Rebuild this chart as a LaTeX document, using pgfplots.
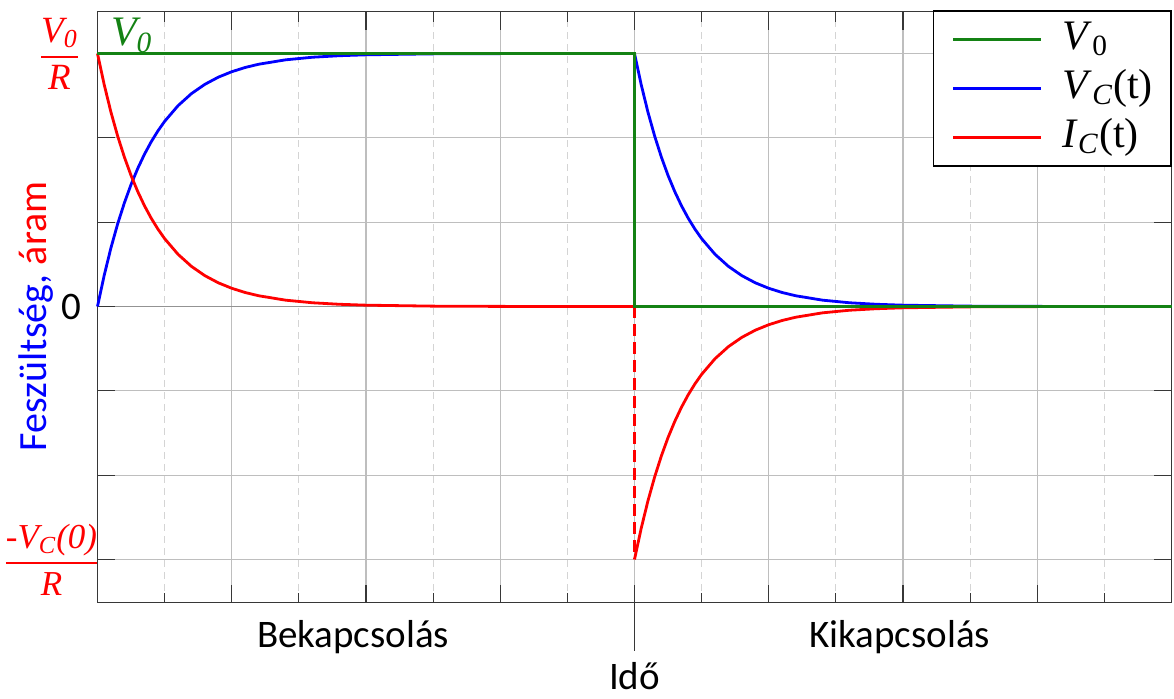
\documentclass[border=0pt]{standalone}
\usepackage{pgfplots}
\pgfplotsset{compat=1.18}
\usepackage{fontspec}
\setmainfont{Liberation Serif}
\newfontfamily\calfont{Carlito}
\usetikzlibrary{calc}
\definecolor{vgreen}{RGB}{20,130,20}
\definecolor{gridmaj}{RGB}{190,190,190}
\definecolor{gridmin}{RGB}{212,212,212}
\definecolor{axgray}{RGB}{55,55,55}
\begin{document}
\begin{tikzpicture}
\begin{axis}[
  scale only axis, width=537pt, height=295.5pt,
  xmin=0, xmax=8, ymin=-1.170, ymax=1.166,
  clip=false,
  xtick={0,1,...,8}, minor x tick num=1,
  ytick={-1,-0.666667,-0.333333,0,0.333333,0.666667,1}, minor y tick num=1,
  xticklabels={}, yticklabels={},
  tick align=inside,
  major tick length=9pt, minor tick length=5pt,
  every tick/.style={axgray, line width=0.6pt},
  grid=both,
  major grid style={gridmaj, line width=0.6pt},
  minor grid style={gridmin, line width=0.6pt, dash pattern=on 3.5pt off 2.5pt},
  axis line style={axgray, line width=0.9pt},
  extra y ticks={0}, extra y tick labels={},
  extra y tick style={grid=major, major grid style={gray!85, line width=0.9pt}},
  ylabel={\calfont\fontsize{20}{24}\selectfont{\color{blue}Feszültség,} {\color{red}áram}},
  ylabel style={at={(axis description cs:-0.0575,0.484)}, anchor=center, rotate=0},
  xlabel={\calfont\fontsize{19.5}{23}\selectfont Idő},
  xlabel style={at={(axis description cs:0.5,-0.124)}, anchor=center},
  legend style={at={(axis description cs:1,1.002)}, anchor=north east, draw=black,
    line width=0.7pt, fill=white, font=\fontsize{21}{25}\selectfont,
    inner xsep=9pt, inner ysep=5pt, row sep=6pt, column sep=10pt,
    nodes={inner sep=0pt, text height=14pt, text depth=4.5pt},
    cells={anchor=west}},
  legend image code/.code={\path (0pt,0pt) -- (4pt,0pt);\draw[#1] (4pt,0pt) -- (44pt,0pt);},
]
\addlegendimage{vgreen, line width=1.4pt}
\addlegendentry{\textit{V}\textsubscript{0}}
\addlegendimage{blue, line width=1.4pt}
\addlegendentry{\textit{V}\textsubscript{\textit{C}}(t)}
\addlegendimage{red, line width=1.4pt}
\addlegendentry{\textit{I}\textsubscript{\textit{C}}(t)}

% V_C(t), charging
\addplot[blue, line width=1.4pt, forget plot] coordinates {
(0,0) (0.05,0.1233) (0.1,0.2314) (0.15,0.3261) (0.2,0.4092) (0.25,0.4821)
(0.3,0.5459) (0.35,0.6019) (0.4,0.6510) (0.45,0.6940) (0.5,0.7317) (0.6,0.7938)
(0.7,0.8415) (0.8,0.8782) (0.9,0.9064) (1.0,0.9280) (1.1,0.9447) (1.2,0.9575)
(1.4,0.9749) (1.6,0.9852) (1.8,0.9912) (2.0,0.9948) (2.5,0.9986) (3.0,0.9996) (4.0,1)
};
% V_C(t), discharging
\addplot[blue, line width=1.4pt, forget plot] coordinates {
(4,1) (4.05,0.8767) (4.1,0.7686) (4.15,0.6739) (4.2,0.5908) (4.25,0.5179)
(4.3,0.4541) (4.35,0.3981) (4.4,0.3490) (4.45,0.3060) (4.5,0.2683) (4.6,0.2062)
(4.7,0.1585) (4.8,0.1218) (4.9,0.0936) (5.0,0.0720) (5.1,0.0553) (5.2,0.0425)
(5.4,0.0251) (5.6,0.0148) (5.8,0.0088) (6.0,0.0052) (6.5,0.0014) (7.0,0.0004) (8,0)
};
% I_C(t), charging
\addplot[red, line width=1.4pt, forget plot] coordinates {
(0,1) (0.05,0.8767) (0.1,0.7686) (0.15,0.6739) (0.2,0.5908) (0.25,0.5179)
(0.3,0.4541) (0.35,0.3981) (0.4,0.3490) (0.45,0.3060) (0.5,0.2683) (0.6,0.2062)
(0.7,0.1585) (0.8,0.1218) (0.9,0.0936) (1.0,0.0720) (1.1,0.0553) (1.2,0.0425)
(1.4,0.0251) (1.6,0.0148) (1.8,0.0088) (2.0,0.0052) (2.5,0.0014) (3.0,0.0004) (4,0)
};
% I_C(t), discharging
\addplot[red, line width=1.4pt, forget plot] coordinates {
(4,-1) (4.05,-0.8767) (4.1,-0.7686) (4.15,-0.6739) (4.2,-0.5908) (4.25,-0.5179)
(4.3,-0.4541) (4.35,-0.3981) (4.4,-0.3490) (4.45,-0.3060) (4.5,-0.2683) (4.6,-0.2062)
(4.7,-0.1585) (4.8,-0.1218) (4.9,-0.0936) (5.0,-0.0720) (5.1,-0.0553) (5.2,-0.0425)
(5.4,-0.0251) (5.6,-0.0148) (5.8,-0.0088) (6.0,-0.0052) (6.5,-0.0014) (7.0,-0.0004) (8,0)
};
% jump of the current
\addplot[red, line width=1.4pt, dash pattern=on 6pt off 3pt, forget plot] coordinates {(4,0) (4,-1)};
% V_0
\addplot[vgreen, line width=1.4pt, forget plot] coordinates {(0,1) (4,1) (4,0) (8,0)};

\draw[axgray, line width=0.6pt] (axis cs:4,-1.170) -- ++(0pt,-24pt);

\node[text=vgreen, font=\fontsize{21}{25}\selectfont\itshape] at (axis cs:0.255,1.072) {V\textsubscript{0}};
\node[text=red, font=\fontsize{18.5}{22}\selectfont\itshape, xshift=-19pt] at (axis cs:0,1)
  {$\displaystyle{\mbox{V\textsubscript{0}}\above 1pt\mbox{R}}$};
\node[text=red, font=\fontsize{17.5}{21}\selectfont\itshape, xshift=-23pt] at (axis cs:0,-1)
  {$\displaystyle{\mbox{-V\textsubscript{C}(0)}\above 1pt\mbox{R}}$};
\node[font=\calfont\fontsize{19.5}{23}\selectfont, xshift=-13pt] at (axis cs:0,0) {0};
\node[font=\calfont\fontsize{19.5}{23}\selectfont] at (axis description cs:0.238,-0.0585) {Bekapcsolás};
\node[font=\calfont\fontsize{19.5}{23}\selectfont] at (axis description cs:0.747,-0.0585) {Kikapcsolás};
\end{axis}
\pgfresetboundingbox
\path[use as bounding box] ($(current axis.south west)+(-48.75pt,-47.75pt)$) rectangle ($(current axis.north east)+(1.25pt,5.75pt)$);
\end{tikzpicture}
\end{document}
